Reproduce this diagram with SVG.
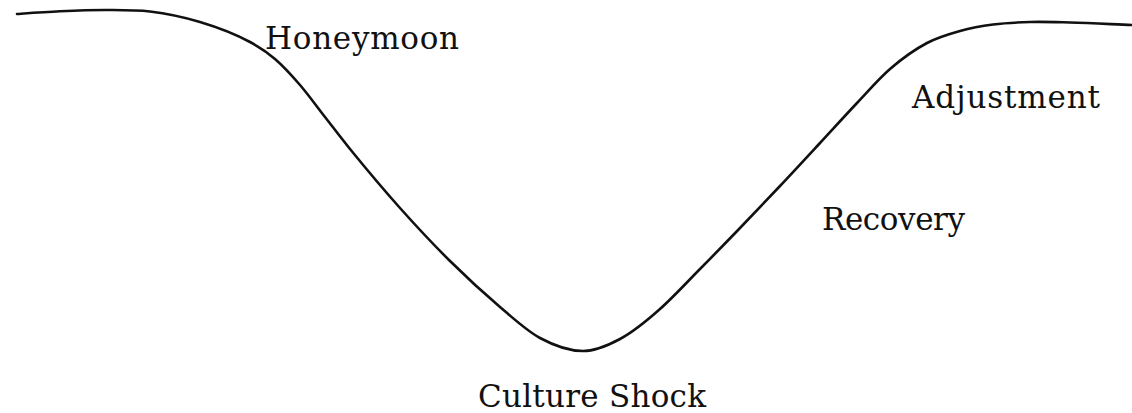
<svg xmlns="http://www.w3.org/2000/svg" width="1132" height="413" viewBox="0 0 1132 413">
<style>
.lbl{font-family:"DejaVu Serif","Liberation Serif",serif;font-size:31px;fill:#111}
.curve{fill:none;stroke:#111;stroke-width:2.6;stroke-linecap:round;stroke-linejoin:round}
</style>
<rect width="1132" height="413" fill="#fff"/>
<g id="connectors">
<path class="curve" d="M17,14 C31.33,13 45.67,11.96 60,11.3 C75,10.61 90,10 105,10 C120,10 135,9.7 150,11.5 C166.67,13.5 183.33,17 200,22 C216.67,27 233.33,33 250,42 C258.33,46.5 266.67,51.83 275,59 C283.33,66.17 291.67,75.33 300,85 C308.33,94.67 316.67,106.33 325,117 C333.33,127.67 341.67,138.75 350,149 C366.67,169.5 383.33,189.33 400,208 C416.67,226.67 433.33,244.5 450,261 C466.67,277.5 483.33,292.8 500,307 C513.33,318.33 526.67,330.8 540,338 C554.33,345.74 568.67,351 583,351 C595.33,351 607.67,345.66 620,339 C633.33,331.8 646.67,320.87 660,309 C673.33,297.13 686.67,282.47 700,269 C713.33,255.53 726.67,241.87 740,228 C753.33,214.13 766.67,200.13 780,186 C793.33,171.87 806.67,157.4 820,143 C832.33,129.68 844.67,116.07 857,103 C868,91.34 879,78.57 890,69 C902.33,58.27 914.67,49.53 927,43 C938,37.17 949,34.08 960,31 C971,27.92 982,25.93 993,24.5 C1005.33,22.9 1017.67,22.37 1030,22 C1043.33,21.6 1056.67,22.15 1070,22.5 C1090.67,23.04 1111.33,24.17 1132,25"/>
</g>
<g id="honeymoon"><text class="lbl" x="265" y="49" textLength="194">Honeymoon</text></g>
<g id="adjustment"><text class="lbl" x="912" y="108" textLength="188">Adjustment</text></g>
<g id="recovery"><text class="lbl" x="822" y="230" textLength="143">Recovery</text></g>
<g id="culture-shock"><text class="lbl" x="478" y="407" textLength="228">Culture Shock</text></g>
</svg>
